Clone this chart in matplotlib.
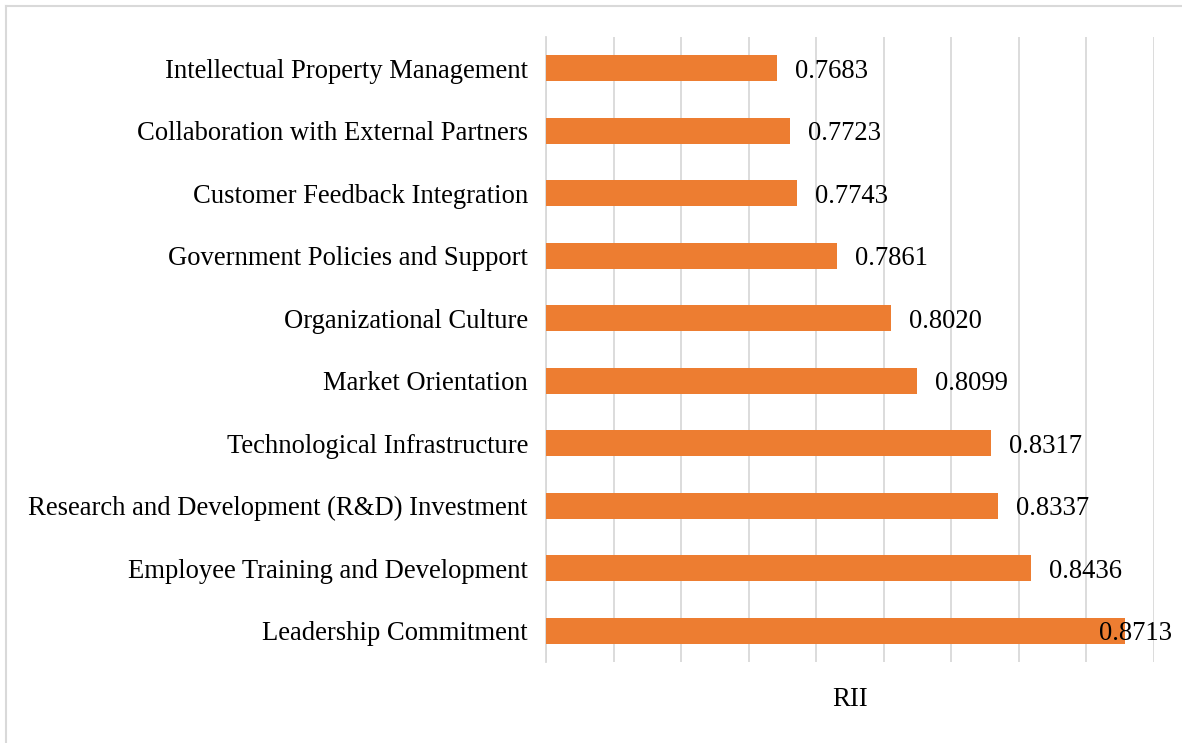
import matplotlib.pyplot as plt
from matplotlib.lines import Line2D

# Fatores e valores de RII (de baixo para cima)
fatores = [
    'Leadership Commitment',
    'Employee Training and Development',
    'Research and Development (R&D) Investment',
    'Technological Infrastructure',
    'Market Orientation',
    'Organizational Culture',
    'Government Policies and Support',
    'Customer Feedback Integration',
    'Collaboration with External Partners',
    'Intellectual Property Management',
]
rii = [0.8713, 0.8436, 0.8337, 0.8317, 0.8099, 0.8020, 0.7861, 0.7743, 0.7723, 0.7683]

plt.rcParams['font.family'] = ['Liberation Serif', 'DejaVu Serif']
fs = 19.2

fig = plt.figure(figsize=(11.82, 7.43), dpi=100)
ax = fig.add_axes([546 / 1182, 1 - 662 / 743, 608 / 1182, 625 / 743])

pos = range(len(fatores))
ax.barh(pos, rii, height=0.42, color='#ED7D31', zorder=3)

ax.set_xlim(0.70, 0.88)
ax.set_ylim(-0.5, len(fatores) - 0.5)
ax.set_xticks([0.70 + 0.02 * i for i in range(10)])
ax.set_yticks(list(pos))
ax.set_yticklabels(fatores, fontsize=fs)
ax.tick_params(axis='both', length=0, pad=13, labelbottom=False)
ax.grid(axis='x', color='#D9D9D9', linewidth=1.3, zorder=0)

for s in ['top', 'right', 'bottom']:
    ax.spines[s].set_visible(False)
ax.spines['left'].set_color('#D9D9D9')
ax.spines['left'].set_linewidth(1.3)

# rótulos de valor
for i, v in enumerate(rii):
    dx = -18.7 if v == max(rii) else 13
    ax.annotate(f'{v:.4f}', (v, i), xytext=(dx, 0), textcoords='offset points',
                va='center_baseline', ha='left', fontsize=fs, annotation_clip=False, zorder=4)

ax.set_xlabel('RII', fontsize=fs, labelpad=18)

# moldura do gráfico
borda = dict(color='#D9D9D9', linewidth=1.5, transform=fig.transFigure)
fig.add_artist(Line2D([6 / 1182, 6 / 1182], [0, 1 - 6 / 743], **borda))
fig.add_artist(Line2D([6 / 1182, 1], [1 - 6 / 743, 1 - 6 / 743], **borda))

fig.savefig('out.png', dpi=100)
